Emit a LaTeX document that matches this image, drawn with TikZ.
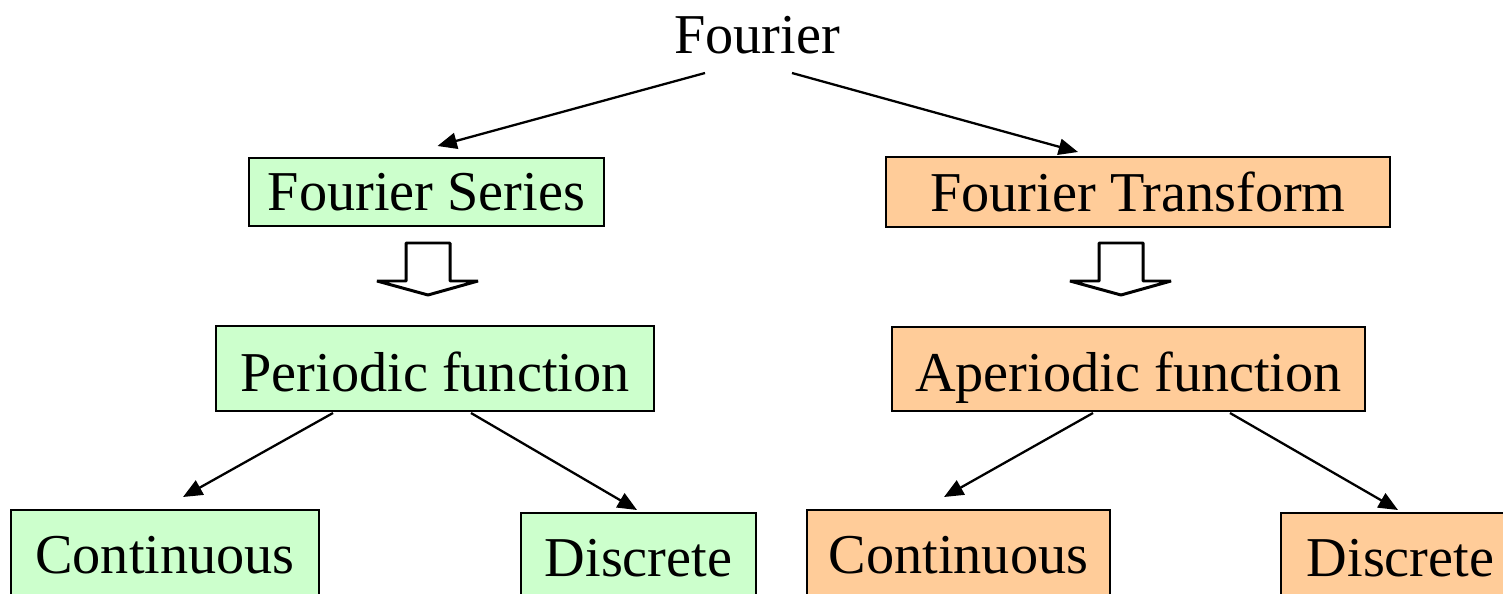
\documentclass[tikz,border=0pt]{standalone}
\usepackage{fontspec}
\setmainfont{Liberation Serif}
\usetikzlibrary{arrows.meta,calc}

\begin{document}
\begin{tikzpicture}[x=0.01cm,y=-0.01cm,
    lbl/.style={font=\fontsize{16}{19}\selectfont},
    sbox/.style={lbl,draw,line width=0.75pt,fill=green!20,inner sep=0pt},
    tbox/.style={lbl,draw,line width=0.75pt,fill=orange!40,inner sep=0pt},
    tip/.style={line width=0.65pt,-{Triangle[length=5.5pt,width=4.6pt]}}]
  \definecolor{green!20}{HTML}{CCFFCC}
  \definecolor{orange!40}{HTML}{FFCC99}
  \useasboundingbox (0,0) rectangle (1503,594);
  \clip (0,0) rectangle (1503,594);
  % top
  \node[lbl] (fourier) at (757,35) {Fourier};
  \node[sbox,minimum width=3.55cm,minimum height=0.68cm] (series) at (426.5,192) {Fourier Series};
  \node[tbox,minimum width=5.04cm,minimum height=0.70cm] (transform) at (1138,192) {Fourier Transform};
  % hollow block arrows
  \foreach \cx in {428,1121} {
    \draw[line width=0.85pt,line join=bevel,fill=white] (\cx-22,243) -- (\cx+22,243) -- (\cx+22,281) -- (\cx+50,281)
      -- (\cx,295) -- (\cx-51,281) -- (\cx-22,281) -- cycle;
  }
  % middle
  \node[sbox,minimum width=4.38cm,minimum height=0.85cm] (periodic) at (435,368.5) {\raisebox{-0.03cm}[\height][\depth]{Periodic function}};
  \node[tbox,minimum width=4.73cm,minimum height=0.84cm] (aperiodic) at (1128.5,369) {\raisebox{-0.09cm}[\height][\depth]{Aperiodic function}};
  % bottom (cut off by the page edge)
  \node[sbox,minimum width=3.08cm,minimum height=0.90cm] (contL) at (165,555) {Continuous};
  \node[sbox,minimum width=2.35cm,minimum height=0.90cm] (discL) at (638.5,558) {Discrete};
  \node[tbox,minimum width=3.03cm,minimum height=0.90cm] (contR) at (958.5,555) {Continuous};
  \node[tbox,minimum width=2.39cm,minimum height=0.90cm] (discR) at (1400.5,558) {Discrete};
  % connectors
  \draw[tip] ($(fourier)+(-52,38)$) -- ($(series)+(11,-46)$);
  \draw[tip] ($(fourier)+(35,38)$) -- ($(transform)+(-60,-40)$);
  \draw[tip] ($(periodic)+(-102,44.5)$) -- ($(contL)+(18,-58)$);
  \draw[tip] ($(periodic)+(36,44.5)$) -- ($(discL)+(-1.5,-48)$);
  \draw[tip] ($(aperiodic)+(-35.5,44)$) -- ($(contR)+(-14.5,-58)$);
  \draw[tip] ($(aperiodic)+(101.5,44)$) -- ($(discR)+(-2.5,-48)$);
\end{tikzpicture}
\end{document}
